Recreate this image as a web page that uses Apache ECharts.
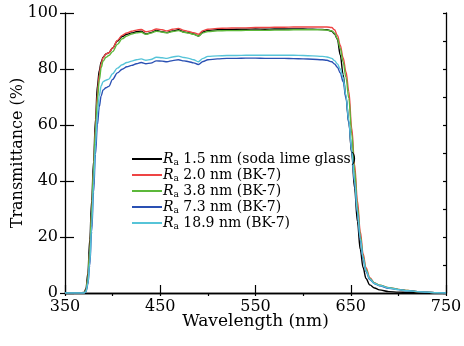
<!DOCTYPE html>
<html><head><meta charset="utf-8">
<script src="https://cdn.jsdelivr.net/npm/echarts@6/dist/echarts.min.js"></script>
<style>html,body{margin:0;padding:0;background:#fff}#c{width:464px;height:346px}</style>
</head><body><div id="c"></div>
<script>
const wavelengths = [350,365,370,372,374,376,378,380,382,384,386,388,390,393,396,400,405,410,415,420,425,430,435,440,446,452,457,463,469,475,480,485,490,495,500,510,520,530,540,550,560,570,580,590,600,610,620,625,630,633,636,639,642,645,648,651,654,657,660,663,666,670,675,680,690,700,710,720,730,740,750];
const names = ["Ra 1.5 nm (soda lime glass)","Ra 2.0 nm (BK-7)","Ra 3.8 nm (BK-7)","Ra 7.3 nm (BK-7)","Ra 18.9 nm (BK-7)"];
const sodaLime15 = [0,0,0.2,1.5,7,19,33,47,62,74,79.5,82.5,84.2,85.4,85.8,87.5,90,91.6,92.4,92.9,93.3,93.5,92.5,93,93.8,93.3,93.0,93.6,94.0,93.2,93.0,92.5,91.8,93.2,93.8,94.0,94.1,94.2,94.2,94.3,94.2,94.3,94.3,94.3,94.3,94.2,94.1,94.0,93.5,92.6,90.5,85,78,70,61,50,37.5,25.5,15.5,9,5.2,2.9,1.8,1.1,0.5,0.3,0.2,0.1,0,0,0];
const bk7_20 = [0,0,0,0.8,5,15,29,44,59,71,78,82,84,85.4,85.8,87.5,90.2,92,92.9,93.5,93.9,94.1,93.3,93.6,94.3,94.0,93.6,94.2,94.5,93.8,93.4,93.0,92.4,93.7,94.2,94.5,94.6,94.7,94.7,94.8,94.8,94.9,94.9,95.0,95.0,95.0,95.0,95.0,94.8,94.0,92.0,88.5,84,79,72,59,46,33,22,14,9,5.5,3.6,2.8,1.9,1.3,0.9,0.5,0.3,0.1,0];
const bk7_38 = [0,0,0,0.8,5,15,29,44,58,69,76,80.5,82.8,84.2,84.8,86.2,88.8,90.8,91.8,92.5,92.9,93.1,92.4,92.8,93.5,93.2,92.9,93.4,93.7,93.1,92.8,92.4,91.8,92.9,93.4,93.6,93.7,93.7,93.8,93.8,93.8,93.9,93.9,94.0,94.0,94.0,94.0,93.9,93.6,92.8,90.8,87.3,82.5,77,69.5,57,44,31,20.5,13,8.4,5.2,3.5,2.8,1.9,1.3,0.9,0.5,0.3,0.1,0];
const bk7_73 = [0,0,0,0.4,3,10,22,36,49.5,60,66.5,70.5,72.5,73.3,73.8,76.3,78.6,79.9,80.8,81.3,81.9,82.3,81.9,82.1,82.9,82.8,82.6,83.0,83.3,82.9,82.6,82.2,81.6,82.7,83.3,83.6,83.8,83.8,83.9,83.9,83.8,83.8,83.8,83.7,83.6,83.5,83.3,83.1,82.6,81.8,80.6,78.6,75.5,69.5,60.5,50.5,39.5,28.5,19,12,7.7,4.8,3.3,2.6,1.7,1.2,0.8,0.5,0.3,0.1,0];
const bk7_189 = [0,0,0,0.5,3.5,11,24,39,53,64,70.5,74,75.5,76,76.4,78.3,80.3,81.5,82.3,82.8,83.3,83.6,83.1,83.4,84.2,84.0,83.8,84.3,84.6,84.1,83.8,83.3,82.6,83.8,84.5,84.7,84.8,84.8,84.9,84.9,84.9,84.9,84.9,84.9,84.8,84.7,84.5,84.3,83.8,83.0,81.8,80,77,70.5,61.5,51,40,29,19.5,12.5,8,5,3.4,2.7,1.8,1.2,0.8,0.5,0.3,0.1,0];
const seriesValues = [sodaLime15, bk7_20, bk7_38, bk7_73, bk7_189];
const colors = ['#000000','#ee4444','#5cb83a','#2a50b3','#56c4d8'];
const xTicks = [350,450,550,650,750];
const yTicks = [0,20,40,60,80,100];

const FONT = 'DejaVu Serif';
const chart = echarts.init(document.getElementById('c'), null, {renderer:'canvas'});
const axisLine = {show:true, lineStyle:{color:'#000', width:1.3}};
const tickStyle = {color:'#000', width:1.2};
chart.setOption({
  animation:false,
  backgroundColor:'#fff',
  color: colors,
  grid:{left:65, right:18, top:13, bottom:53, outerBoundsMode:'none', containLabel:false},
  legend:{
    orient:'vertical', left:132, top:152, padding:0, icon:'rect', itemWidth:30, itemHeight:2, itemGap:1,
    data: names,
    formatter: n => '{i|R}{s|a}{t| ' + n.slice(3) + '}',
    textStyle:{color:'#000', fontFamily:FONT, fontSize:14, padding:[0,0,0,-4],
      rich:{
        i:{fontFamily:FONT, fontSize:14, fontStyle:'italic', color:'#000'},
        s:{fontFamily:FONT, fontSize:9, color:'#000', padding:[7,0,0,0]},
        t:{fontFamily:FONT, fontSize:14, color:'#000'}
      }}
  },
  xAxis:[
    {type:'value', min:xTicks[0], max:xTicks[xTicks.length-1], interval:xTicks[1]-xTicks[0], position:'bottom',
     axisLine, axisTick:{show:true, inside:true, length:8, lineStyle:tickStyle}, splitLine:{show:false},
     axisLabel:{color:'#000', fontFamily:FONT, fontSize:16, margin:6},
     name:'Wavelength (nm)', nameLocation:'middle', nameGap:20, nameMoveOverlap:false,
     nameTextStyle:{color:'#000', fontFamily:FONT, fontSize:17}},
    {type:'value', min:350, max:750, interval:50, position:'top',
     axisLine, axisTick:{show:true, inside:true, length:3, lineStyle:tickStyle}, axisLabel:{show:false}, splitLine:{show:false}}
  ],
  yAxis:[
    {type:'value', min:yTicks[0], max:yTicks[yTicks.length-1], interval:20, position:'left',
     axisLine, axisTick:{show:true, inside:true, length:9, lineStyle:tickStyle}, splitLine:{show:false},
     axisLabel:{color:'#000', fontFamily:FONT, fontSize:16, margin:7},
     name:'Transmittance (%)', nameLocation:'middle', nameGap:39, nameMoveOverlap:false,
     nameTextStyle:{color:'#000', fontFamily:FONT, fontSize:16}},
    {type:'value', min:0, max:100, interval:10, position:'right',
     axisLine, axisTick:{show:true, inside:true, length:3, lineStyle:tickStyle}, axisLabel:{show:false}, splitLine:{show:false}},
    {type:'value', min:0, max:100, interval:20, position:'left', offset:0,
     axisLine:{show:false}, axisTick:{show:true, inside:false, length:5, lineStyle:tickStyle}, axisLabel:{show:false}, splitLine:{show:false}}
  ],
  series: names.map((n,k)=>({
    name:n, type:'line', xAxisIndex:0, yAxisIndex:0, showSymbol:false, symbol:'none',
    smooth:0.35, smoothMonotone:'x',
    lineStyle:{width:1.4, color:colors[k]}, itemStyle:{color:colors[k]},
    data: wavelengths.map((w,i)=>[w, seriesValues[k][i]])
  }))
});
</script></body></html>
